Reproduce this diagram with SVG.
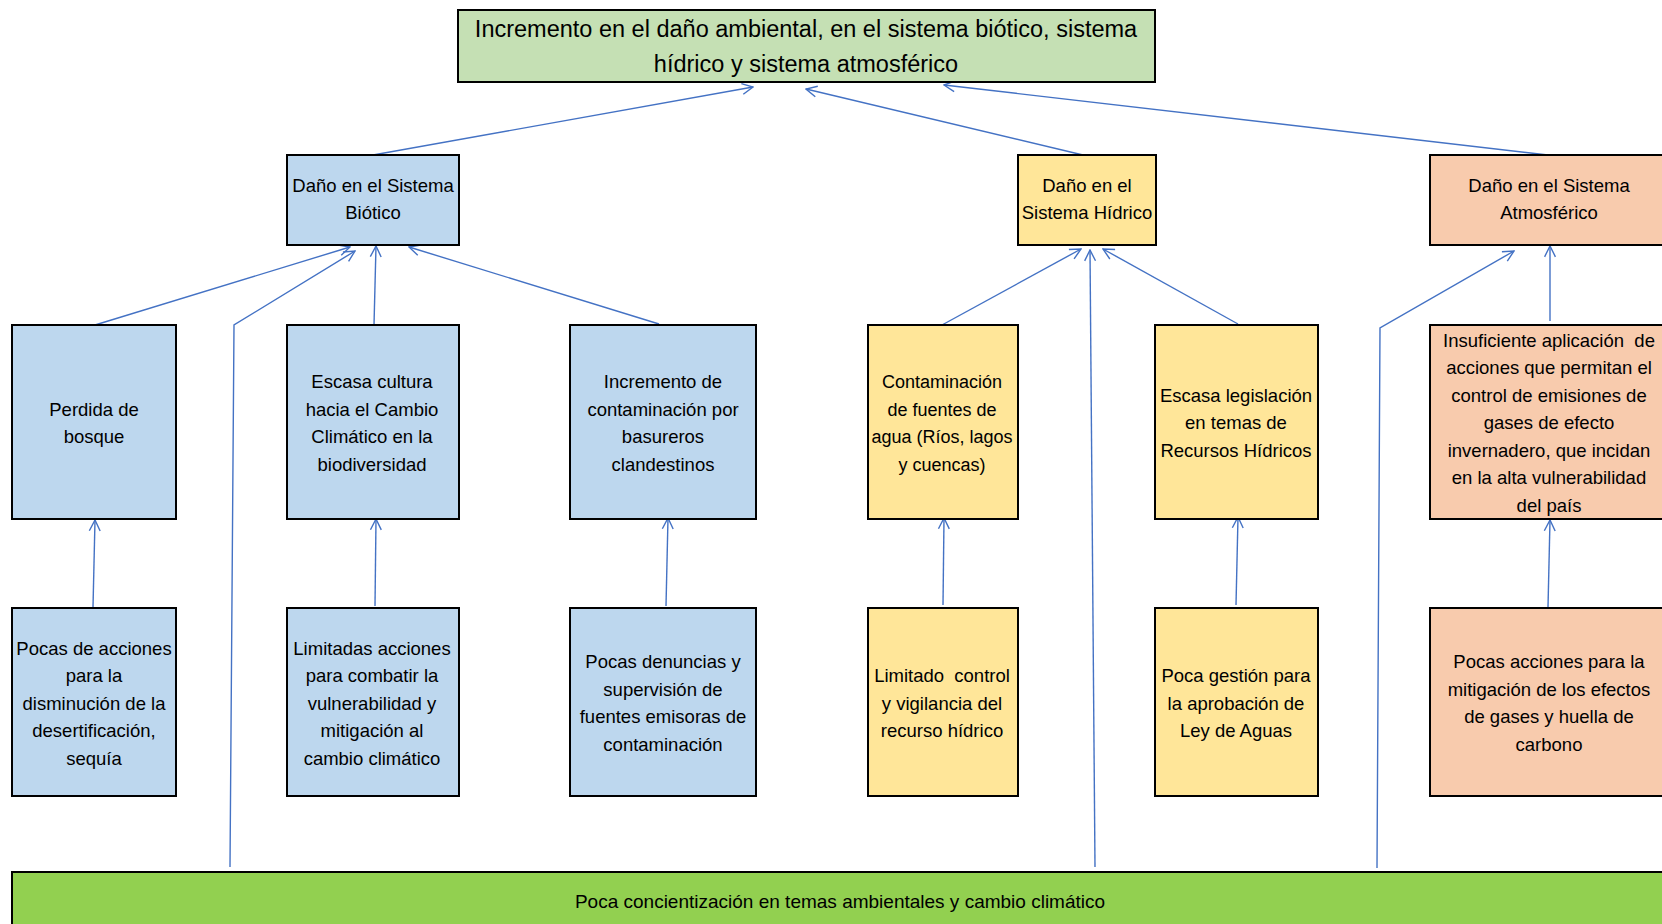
<svg xmlns="http://www.w3.org/2000/svg" width="1662" height="924" viewBox="0 0 1662 924">
<defs>
<style>
.box{stroke:#000;stroke-width:2}
.blue{fill:#BDD7EE}.yel{fill:#FFE699}.org{fill:#F8CBAD}.top{fill:#C5E0B4}.bot{fill:#92D050}
text{font-family:"Liberation Sans",Arial,sans-serif;font-size:18.5px;fill:#000;text-anchor:middle}
.big{font-size:23.5px}
.bt{font-size:19px}
.sm{font-size:18px}
.con{fill:none;stroke:#4472C4;stroke-width:1.4}
</style>
<marker id="ah" viewBox="0 0 12 12" refX="11" refY="6" markerWidth="13" markerHeight="13" markerUnits="userSpaceOnUse" orient="auto">
<path d="M1,1 L11,6 L1,11" fill="none" stroke="#4472C4" stroke-width="1.3"/>
</marker>
</defs>
<rect width="1662" height="924" fill="#fff"/>

<g id="connectors">
<path class="con" marker-end="url(#ah)" d="M373,155 L753,87"/>
<path class="con" marker-end="url(#ah)" d="M1083,155 L806,89"/>
<path class="con" marker-end="url(#ah)" d="M1548,155 L944,85"/>
<path class="con" marker-end="url(#ah)" d="M95,325 L350,247"/>
<path class="con" marker-end="url(#ah)" d="M230,867 L234,325 L355,251"/>
<path class="con" marker-end="url(#ah)" d="M374,325 L376,246"/>
<path class="con" marker-end="url(#ah)" d="M659,324 L409,247"/>
<path class="con" marker-end="url(#ah)" d="M942,325 L1081,249"/>
<path class="con" marker-end="url(#ah)" d="M1095,867 L1090,250"/>
<path class="con" marker-end="url(#ah)" d="M1238,324 L1103,249"/>
<path class="con" marker-end="url(#ah)" d="M1377,868 L1380,328 L1514,251"/>
<path class="con" marker-end="url(#ah)" d="M1550,321 L1550,246"/>
<path class="con" marker-end="url(#ah)" d="M93,607 L95,520"/>
<path class="con" marker-end="url(#ah)" d="M375,606 L376,519"/>
<path class="con" marker-end="url(#ah)" d="M666,606 L668,518"/>
<path class="con" marker-end="url(#ah)" d="M943,605 L944,518"/>
<path class="con" marker-end="url(#ah)" d="M1236,605 L1238,517"/>
<path class="con" marker-end="url(#ah)" d="M1548,607 L1550,520"/>
</g>

<g id="n-top">
<rect class="box top" x="458" y="10" width="697" height="72"/>
<text class="big" x="806" y="37">Incremento en el daño ambiental, en el sistema biótico, sistema</text>
<text class="big" x="806" y="72">hídrico y sistema atmosférico</text>
</g>

<g id="n-biotico">
<rect class="box blue" x="287" y="155" width="172" height="90"/>
<text x="373" y="192">Daño en el Sistema</text>
<text x="373" y="219">Biótico</text>
</g>
<g id="n-hidrico">
<rect class="box yel" x="1018" y="155" width="138" height="90"/>
<text x="1087" y="192">Daño en el</text>
<text x="1087" y="219">Sistema Hídrico</text>
</g>
<g id="n-atmos">
<rect class="box org" x="1430" y="155" width="240" height="90"/>
<text x="1549" y="192">Daño en el Sistema</text>
<text x="1549" y="219">Atmosférico</text>
</g>

<g id="n-perdida">
<rect class="box blue" x="12" y="325" width="164" height="194"/>
<text x="94" y="416">Perdida de</text>
<text x="94" y="443">bosque</text>
</g>
<g id="n-escasa-cultura">
<rect class="box blue" x="287" y="325" width="172" height="194"/>
<text x="372" y="388">Escasa cultura</text>
<text x="372" y="416">hacia el Cambio</text>
<text x="372" y="443">Climático en la</text>
<text x="372" y="471">biodiversidad</text>
</g>
<g id="n-incremento">
<rect class="box blue" x="570" y="325" width="186" height="194"/>
<text x="663" y="388">Incremento de</text>
<text x="663" y="416">contaminación por</text>
<text x="663" y="443">basureros</text>
<text x="663" y="471">clandestinos</text>
</g>
<g id="n-contaminacion">
<rect class="box yel" x="868" y="325" width="150" height="194"/>
<text class="sm" x="942" y="388">Contaminación</text>
<text class="sm" x="942" y="416">de fuentes de</text>
<text class="sm" x="942" y="443">agua (Ríos, lagos</text>
<text class="sm" x="942" y="471">y cuencas)</text>
</g>
<g id="n-legislacion">
<rect class="box yel" x="1155" y="325" width="163" height="194"/>
<text x="1236" y="402">Escasa legislación</text>
<text x="1236" y="429">en temas de</text>
<text x="1236" y="457">Recursos Hídricos</text>
</g>
<g id="n-insuficiente">
<rect class="box org" x="1430" y="325" width="240" height="194"/>
<text x="1549" y="347" xml:space="preserve">Insuficiente aplicación  de</text>
<text x="1549" y="374">acciones que permitan el</text>
<text x="1549" y="402">control de emisiones de</text>
<text x="1549" y="429">gases de efecto</text>
<text x="1549" y="457">invernadero, que incidan</text>
<text x="1549" y="484">en la alta vulnerabilidad</text>
<text x="1549" y="512">del país</text>
</g>

<g id="n-pocas-acciones">
<rect class="box blue" x="12" y="608" width="164" height="188"/>
<text x="94" y="655">Pocas de acciones</text>
<text x="94" y="682">para la</text>
<text x="94" y="710">disminución de la</text>
<text x="94" y="737">desertificación,</text>
<text x="94" y="765">sequía</text>
</g>
<g id="n-limitadas">
<rect class="box blue" x="287" y="608" width="172" height="188"/>
<text x="372" y="655">Limitadas acciones</text>
<text x="372" y="682">para combatir la</text>
<text x="372" y="710">vulnerabilidad y</text>
<text x="372" y="737">mitigación al</text>
<text x="372" y="765">cambio climático</text>
</g>
<g id="n-denuncias">
<rect class="box blue" x="570" y="608" width="186" height="188"/>
<text x="663" y="668">Pocas denuncias y</text>
<text x="663" y="696">supervisión de</text>
<text x="663" y="723">fuentes emisoras de</text>
<text x="663" y="751">contaminación</text>
</g>
<g id="n-limitado-control">
<rect class="box yel" x="868" y="608" width="150" height="188"/>
<text x="942" y="682" xml:space="preserve">Limitado  control</text>
<text x="942" y="710">y vigilancia del</text>
<text x="942" y="737">recurso hídrico</text>
</g>
<g id="n-gestion">
<rect class="box yel" x="1155" y="608" width="163" height="188"/>
<text x="1236" y="682">Poca gestión para</text>
<text x="1236" y="710">la aprobación de</text>
<text x="1236" y="737">Ley de Aguas</text>
</g>
<g id="n-mitigacion">
<rect class="box org" x="1430" y="608" width="240" height="188"/>
<text x="1549" y="668">Pocas acciones para la</text>
<text x="1549" y="696">mitigación de los efectos</text>
<text x="1549" y="723">de gases y huella de</text>
<text x="1549" y="751">carbono</text>
</g>

<g id="n-bottom">
<rect class="box bot" x="12" y="872" width="1660" height="60"/>
<text class="bt" x="840" y="908">Poca concientización en temas ambientales y cambio climático</text>
</g>
</svg>
